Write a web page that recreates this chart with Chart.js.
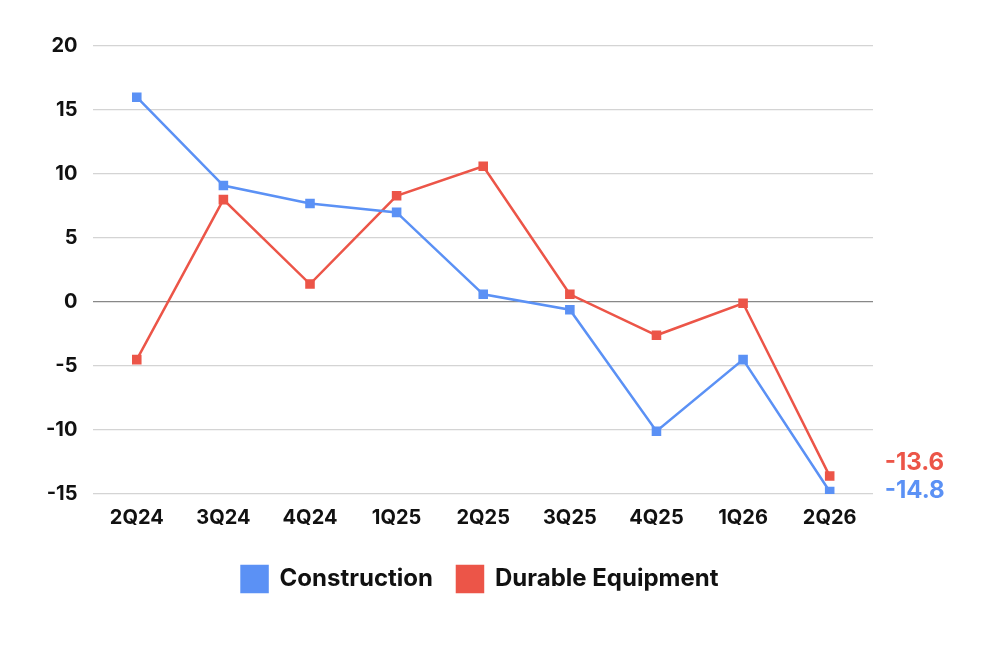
<!DOCTYPE html>
<html>
<head>
<meta charset="utf-8">
<script src="https://cdn.jsdelivr.net/npm/chart.js@4/dist/chart.umd.min.js"></script>
<style>
  html, body { margin: 0; padding: 0; background: #fff; }
  #wrap { width: 997px; height: 664px; }
</style>
</head>
<body>
<div id="wrap"><canvas id="chart"></canvas></div>
<script>
const quarters = ["2Q24", "3Q24", "4Q24", "1Q25", "2Q25", "3Q25", "4Q25", "1Q26", "2Q26"];
const construction = [16.0, 9.1, 7.7, 7.0, 0.6, -0.6, -10.1, -4.5, -14.8];
const durableEquipment = [-4.5, 8.0, 1.4, 8.3, 10.6, 0.6, -2.6, -0.1, -13.6];

const blue = "#5b91f5";
const red = "#ec5548";

// writes the last value of each line just right of its final point
const endLabels = {
  id: "endLabels",
  afterDatasetsDraw(chart) {
    const ctx = chart.ctx;
    ctx.save();
    ctx.font = "bold 24px Inter";
    ctx.textBaseline = "middle";
    ctx.textAlign = "left";
    chart.data.datasets.forEach((ds, i) => {
      const meta = chart.getDatasetMeta(i);
      const pt = meta.data[meta.data.length - 1];
      const v = ds.data[ds.data.length - 1];
      ctx.fillStyle = ds.borderColor;
      let y = pt.y + (i == 0 ? -1 : -13);
      ctx.fillText(v.toFixed(1), pt.x + 55, y);
    });
    ctx.restore();
  },
};

new Chart(document.getElementById("chart"), {
  type: "line",
  data: {
    labels: quarters,
    datasets: [
      {
        label: "Construction",
        data: construction,
        borderColor: blue,
        backgroundColor: blue,
        borderWidth: 2.5,
        pointStyle: "rect",
        pointRadius: 5,
        pointHoverRadius: 5,
        tension: 0,
      },
      {
        label: "Durable Equipment",
        data: durableEquipment,
        borderColor: red,
        backgroundColor: red,
        borderWidth: 2.5,
        pointStyle: "rect",
        pointRadius: 5,
        pointHoverRadius: 5,
        tension: 0,
      },
    ],
  },
  options: {
    responsive: true,
    maintainAspectRatio: false,
    animation: false,
    layout: {
      padding: { left: 30, right: 67, top: 46, bottom: 62 },
    },
    plugins: {
      legend: {
        position: "bottom",
        labels: {
          boxWidth: 26,
          boxHeight: 26,
          padding: 24,
          color: "#111",
          font: { family: "Inter", size: 24, weight: "bold" },
        },
      },
      tooltip: { enabled: false },
    },
    scales: {
      x: {
        offset: true,
        grid: { display: false, drawTicks: false },
        border: { display: false },
        ticks: {
          color: "#111",
          padding: 12,
          font: { family: "Inter", size: 20, weight: "bold" },
        },
      },
      y: {
        min: -15,
        max: 20,
        grid: {
          drawTicks: false,
          lineWidth: 1.2,
          color: (c) => (c.tick && c.tick.value === 0 ? "#888" : "#d4d4d4"),
        },
        border: { display: false },
        ticks: {
          stepSize: 5,
          color: "#111",
          padding: 16,
          font: { family: "Inter", size: 20, weight: "bold" },
        },
      },
      // empty right axis: keeps room for the end labels, legend stays centred
      yRight: {
        position: "right",
        grid: { display: false, drawTicks: false },
        border: { display: false },
        ticks: { display: false },
        afterFit: (scale) => {
          scale.width = 57;
        },
      },
    },
  },
  plugins: [endLabels],
});
</script>
</body>
</html>
